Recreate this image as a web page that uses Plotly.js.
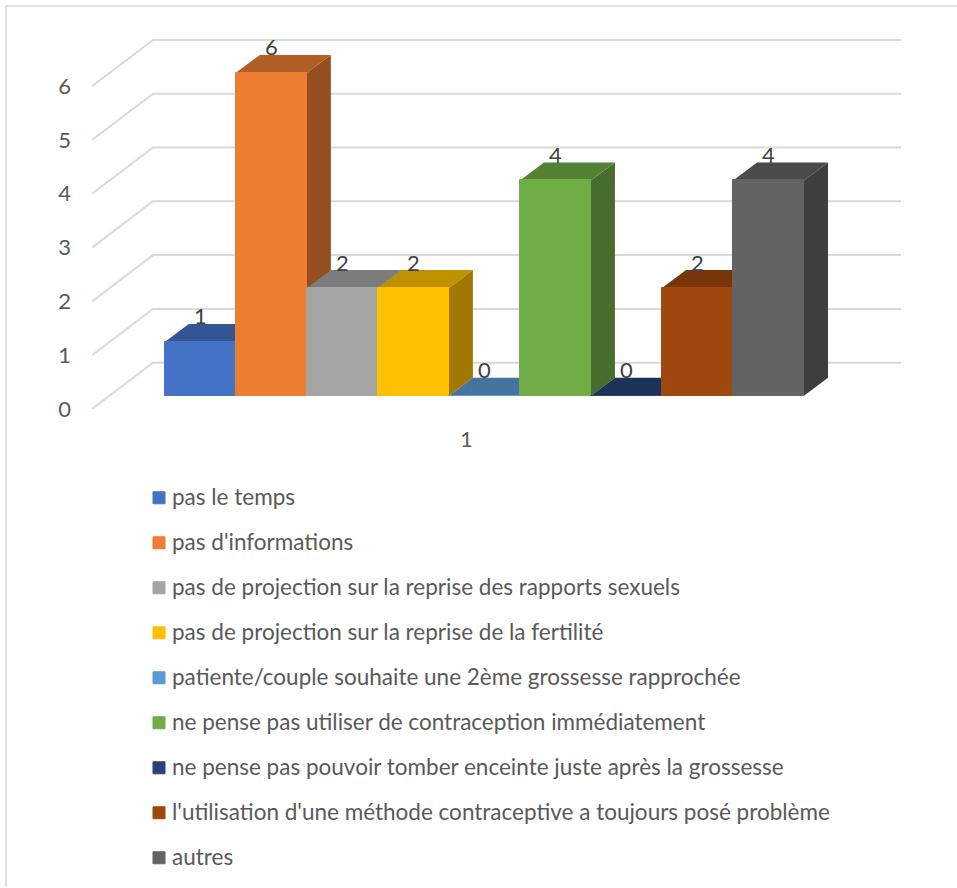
<!DOCTYPE html>
<html>
<head>
<meta charset="utf-8">
<script src="https://cdn.plot.ly/plotly-3.0.1.min.js"></script>
<style>
html,body{margin:0;padding:0;background:#fff;overflow:hidden}
#chart{width:957px;height:888px}
#chart text{font-variant-ligatures:none}
#chart .legendtext{transform:translate(-7px,-1.5px)}
</style>
</head>
<body>
<div id="chart"></div>
<script>
const categoryLabels = ["1"];
const seriesNames = [
  "pas le temps",
  "pas d'informations",
  "pas de projection sur la reprise des rapports sexuels",
  "pas de projection sur la reprise de la fertilité",
  "patiente/couple souhaite une 2ème grossesse rapprochée",
  "ne pense pas utiliser de contraception immédiatement",
  "ne pense pas pouvoir tomber enceinte juste après la grossesse",
  "l'utilisation d'une méthode contraceptive a toujours posé problème",
  "autres"
];
const seriesValues = [1, 6, 2, 2, 0, 4, 0, 2, 4];
const frontColors = ["#4472c4","#ed7d31","#a5a5a5","#ffc000","#5b9bd5","#70ad47","#264478","#9e480e","#636363"];
const topColors = ["#335593","#b25e25","#7c7c7c","#bf9000","#44749f","#548235","#1c3359","#77360a","#4a4a4a"];
const sideColors = ["#2b4a7c","#954e1e","#686868","#a17900","#3a6286","#476d2d","#182b4c","#642d09","#3e3e3e"];
const yTicks = [0, 1, 2, 3, 4, 5, 6];

// Pixel geometry of the pseudo-3D projection
const W = 957, H = 888;
const plotL = 92, plotR = 901, plotT = 30, plotB = 409.3;
const unitPx = 53.85, xUnitPx = 639.2, groupCenterPx = 484.4;
const frontBasePx = 396;
const lift = (plotB - frontBasePx) / unitPx;
const barDepthX = 24 / xUnitPx, barDepthY = 18 / unitPx;
const wallDepthX = 61 / xUnitPx, wallDepthY = 46.3 / unitPx;
const xRange = [1 - (groupCenterPx - plotL) / xUnitPx, 1 + (plotR - groupCenterPx) / xUnitPx];
const yTop = (plotB - plotT) / unitPx;
const n = seriesValues.length;
const barW = 1 / n;

const traces = [];

// Wall gridlines
yTicks.forEach(v => {
  traces.push({
    type: 'scatter', mode: 'lines', xaxis: 'x', yaxis: 'y', showlegend: false, hoverinfo: 'skip',
    x: [xRange[0], xRange[0] + wallDepthX, xRange[1]],
    y: [v, v + wallDepthY, v + wallDepthY],
    line: {color: '#d9d9d9', width: 2},
    cliponaxis: false
  });
});

// Side and top faces, painted left to right
seriesValues.forEach((v, i) => {
  const x0 = 1 - 0.5 + i * barW, x1 = x0 + barW;
  if (v > 0) {
    traces.push({
      type: 'scatter', mode: 'lines', fill: 'toself', fillcolor: sideColors[i],
      xaxis: 'x', yaxis: 'y', showlegend: false, hoverinfo: 'skip',
      x: [x1, x1 + barDepthX, x1 + barDepthX, x1, x1],
      y: [lift, lift + barDepthY, lift + v + barDepthY, lift + v, lift],
      line: {width: 0, color: sideColors[i]}
    });
  }
  traces.push({
    type: 'scatter', mode: 'lines', fill: 'toself', fillcolor: topColors[i],
    xaxis: 'x', yaxis: 'y', showlegend: false, hoverinfo: 'skip',
    x: [x0, x1, x1 + barDepthX, x0 + barDepthX, x0],
    y: [lift + v, lift + v, lift + v + barDepthY, lift + v + barDepthY, lift + v],
    line: {width: 0, color: topColors[i]}
  });
});

// Front faces: real bars on an overlaid subplot
seriesValues.forEach((v, i) => {
  traces.push({
    type: 'bar', xaxis: 'x2', yaxis: 'y2',
    name: seriesNames[i], legendgroup: 'g' + i,
    x: [1], y: [v],
    marker: {color: frontColors[i], line: {color: frontColors[i], width: 1}}
  });
});

const annotations = seriesValues.map((v, i) => ({
  xref: 'x', yref: 'y', showarrow: false,
  x: 0.5 + (i + 0.5) * barW, y: lift + v, yshift: 26, yanchor: 'middle', xanchor: 'center',
  text: String(v), font: {family: 'Lato, sans-serif', size: 22, color: '#404040'}
}));

const plotW = plotR - plotL, plotH = plotB - plotT;
const layout = {
  width: W, height: H,
  margin: {l: plotL, r: W - plotR, t: plotT, b: H - plotB, pad: 0, autoexpand: false},
  paper_bgcolor: '#ffffff', plot_bgcolor: 'rgba(0,0,0,0)',
  font: {family: 'Lato, sans-serif', color: '#595959', size: 22},
  barmode: 'group', bargap: 0, bargroupgap: 0,
  xaxis: {
    range: xRange, type: 'linear', tickmode: 'array', tickvals: [1], ticktext: categoryLabels,
    showgrid: false, zeroline: false, showline: false, ticks: '', ticklen: 0,
    ticklabelshift: -18, ticklabelstandoff: 15, tickfont: {size: 22, color: '#595959'}, automargin: false
  },
  yaxis: {
    range: [0, yTop], tickmode: 'array', tickvals: yTicks,
    showgrid: false, zeroline: false, showline: false, ticks: '', ticklen: 0,
    ticklabelstandoff: 20, tickfont: {size: 22, color: '#595959'}, automargin: false
  },
  xaxis2: {range: xRange, type: 'linear', overlaying: 'x', visible: false, fixedrange: true},
  yaxis2: {range: [-lift, yTop - lift], overlaying: 'y', visible: false, fixedrange: true},
  legend: {
    x: (139 - plotL) / plotW, xanchor: 'left',
    y: (plotB - 477) / plotH, yanchor: 'top',
    traceorder: 'grouped', tracegroupgap: 12.75,
    bgcolor: 'rgba(0,0,0,0)', borderwidth: 0,
    font: {family: 'Lato, sans-serif', size: 22.5, color: '#595959'}
  },
  annotations: annotations,
  shapes: [
    {type: 'line', xref: 'paper', yref: 'paper', layer: 'below',
     x0: (6 - plotL) / plotW, x1: (6 - plotL) / plotW, y0: (plotB - 6) / plotH, y1: (plotB - H) / plotH,
     line: {color: '#d9d9d9', width: 1.5}},
    {type: 'line', xref: 'paper', yref: 'paper', layer: 'below',
     x0: (6 - plotL) / plotW, x1: (W - plotL) / plotW, y0: (plotB - 6) / plotH, y1: (plotB - 6) / plotH,
     line: {color: '#d9d9d9', width: 1.5}}
  ]
};

Plotly.newPlot('chart', traces, layout, {displayModeBar: false, responsive: false});
</script>
</body>
</html>
